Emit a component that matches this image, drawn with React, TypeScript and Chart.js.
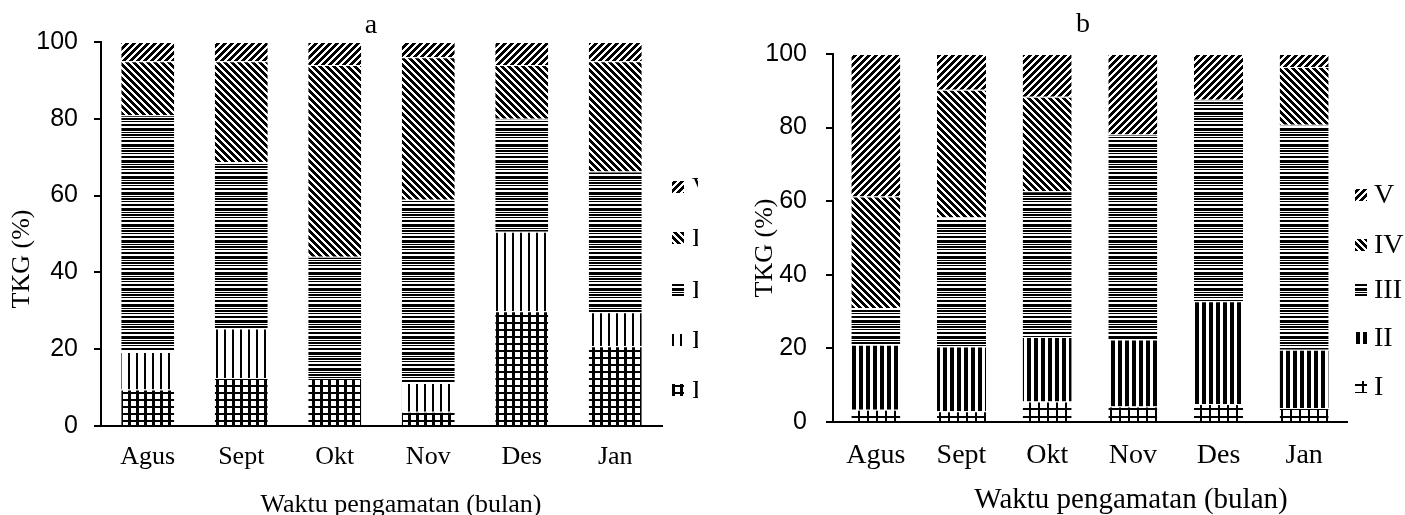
import React, { useEffect, useRef } from 'react';
import { Chart, registerables } from 'chart.js';

Chart.register(...registerables);

// ---------- DATA ----------
const categories = ['Agus', 'Sept', 'Okt', 'Nov', 'Des', 'Jan'];
const seriesNames = ['I', 'II', 'III', 'IV', 'V'];
const yTicks = [0, 20, 40, 60, 80, 100];

// chart a
const aI = [9.5, 12.5, 12.5, 3.7, 29.9, 20.8];
const aII = [9.8, 12.9, 0, 7.5, 20.7, 8.8];
const aIII = [61.6, 43.3, 31.6, 47.7, 29.4, 36.7];
const aIV = [14.1, 26.3, 49.9, 37.1, 14.0, 28.7];
const aV = [5, 5, 6, 4, 6, 5];

// chart b
const bI = [3.3, 2.9, 5.6, 4.2, 4.9, 3.8];
const bII = [17.7, 17.6, 17.5, 18.2, 27.9, 15.8];
const bIII = [10.0, 35.1, 39.6, 55.7, 54.8, 61.2];
const bIV = [30.3, 34.7, 25.7, 0, 0, 15.7];
const bV = [38.7, 9.7, 11.6, 21.9, 12.4, 3.5];

const titleA = 'a';
const titleB = 'b';
const yTitle = 'TKG (%)';
const xTitle = 'Waktu pengamatan (bulan)';

const SERIF = '"Liberation Serif", "Times New Roman", serif';
const SANS = '"Liberation Sans", Arial, sans-serif';

// ---------- PATTERNS ----------
function makeTile(w: number, h: number, on: (x: number, y: number) => boolean): HTMLCanvasElement {
  const c = document.createElement('canvas');
  c.width = w;
  c.height = h;
  const g = c.getContext('2d')!;
  const img = g.createImageData(w, h);
  for (let y = 0; y < h; y++) {
    for (let x = 0; x < w; x++) {
      const i = (y * w + x) * 4;
      const v = on(x, y) ? 0 : 255;
      img.data[i] = v;
      img.data[i + 1] = v;
      img.data[i + 2] = v;
      img.data[i + 3] = 255;
    }
  }
  g.putImageData(img, 0, 0);
  return c;
}

const hRows = new Set([0, 1, 2, 4, 6, 7, 9, 12, 13]);

function patternsA(ctx: CanvasRenderingContext2D) {
  return [
    ctx.createPattern(makeTile(8, 7, (x, y) => x < 3 || y < 2), 'repeat')!,
    ctx.createPattern(makeTile(8, 4, (x) => x < 2), 'repeat')!,
    ctx.createPattern(makeTile(4, 16, (_x, y) => hRows.has(y)), 'repeat')!,
    ctx.createPattern(makeTile(7, 7, (x, y) => (((x - y) % 7) + 7) % 7 < 4), 'repeat')!,
    ctx.createPattern(makeTile(7, 7, (x, y) => (x + y) % 7 < 4), 'repeat')!,
  ];
}

function patternsB(ctx: CanvasRenderingContext2D) {
  return [
    ctx.createPattern(makeTile(9, 8, (x, y) => x < 2 || y < 2), 'repeat')!,
    ctx.createPattern(makeTile(7, 4, (x) => x < 4), 'repeat')!,
    ctx.createPattern(makeTile(4, 16, (_x, y) => hRows.has(y)), 'repeat')!,
    ctx.createPattern(makeTile(7, 7, (x, y) => (((x - y) % 7) + 7) % 7 < 4), 'repeat')!,
    ctx.createPattern(makeTile(7, 7, (x, y) => (x + y) % 7 < 4), 'repeat')!,
  ];
}

interface Deco {
  letter: string;
  letterSize: number;
  letterDx: number;
  letterDy: number;
  xTitleSize: number;
  xTitleDx: number;
  xTitleDy: number;
  yTitleSize: number;
  yTitleDx: number;
  yTitleDy: number;
  legSize: number;
  legIconDx: number;
  legLabelDx: number;
  legDy: number[]; // for V, IV, III, II, I (top to bottom)
}

function decoPlugin(d: Deco, pats: CanvasPattern[]) {
  return {
    id: 'deco',
    afterDraw(chart: any) {
      const ctx: CanvasRenderingContext2D = chart.ctx;
      const a = chart.chartArea;
      ctx.save();
      ctx.fillStyle = '#000';
      // letter title
      ctx.font = `${d.letterSize}px ${SERIF}`;
      ctx.textAlign = 'center';
      ctx.textBaseline = 'alphabetic';
      ctx.fillText(d.letter, a.left + d.letterDx, a.top + d.letterDy);
      // x title
      ctx.font = `${d.xTitleSize}px ${SERIF}`;
      ctx.fillText(xTitle, a.left + d.xTitleDx, a.bottom + d.xTitleDy);
      // y title
      ctx.save();
      ctx.translate(a.left + d.yTitleDx, a.top + d.yTitleDy);
      ctx.rotate(-Math.PI / 2);
      ctx.font = `${d.yTitleSize}px ${SERIF}`;
      ctx.textBaseline = 'middle';
      ctx.fillText(yTitle, 0, 0);
      ctx.restore();
      // legend
      ctx.font = `${d.legSize}px ${SERIF}`;
      ctx.textAlign = 'left';
      ctx.textBaseline = 'middle';
      for (let k = 0; k < 5; k++) {
        const si = 4 - k;
        const cy = a.top + d.legDy[k];
        const ix = a.right + d.legIconDx;
        ctx.fillStyle = '#fff';
        ctx.fillRect(ix, cy - 6, 12, 12);
        ctx.fillStyle = pats[si];
        ctx.fillRect(ix, cy - 6, 12, 12);
        ctx.fillStyle = '#000';
        ctx.fillText(seriesNames[si], a.right + d.legLabelDx, cy + 1);
      }
      ctx.restore();
    },
  };
}

function buildConfig(
  series: number[][],
  pats: CanvasPattern[],
  o: {
    padRight: number;
    padTop: number;
    yWidth: number;
    xHeight: number;
    barPct: number;
    xTickSize: number;
    xTickPad: number;
    yTickPad: number;
  },
  deco: Deco
): any {
  return {
    type: 'bar',
    data: {
      labels: categories,
      datasets: series.map((vals, i) => ({
        label: seriesNames[i],
        data: vals,
        backgroundColor: pats[i],
        borderColor: '#fff',
        borderWidth: { top: 1, left: 0, right: 0, bottom: 0 },
        borderSkipped: false,
        barPercentage: o.barPct,
        categoryPercentage: 1,
      })),
    },
    options: {
      animation: false,
      responsive: false,
      events: [],
      layout: { padding: { left: 0, right: o.padRight, top: o.padTop, bottom: 0 } },
      plugins: {
        legend: { display: false },
        tooltip: { enabled: false },
        title: { display: false },
      },
      scales: {
        x: {
          stacked: true,
          grid: { display: false, drawTicks: false },
          border: { display: true, color: '#000', width: 2 },
          ticks: {
            color: '#000',
            font: { family: SERIF, size: o.xTickSize },
            padding: o.xTickPad,
            maxRotation: 0,
            autoSkip: false,
          },
          afterFit: (s: any) => {
            s.height = o.xHeight;
          },
        },
        y: {
          stacked: true,
          min: 0,
          max: 100,
          afterBuildTicks: (s: any) => {
            s.ticks = yTicks.map((v) => ({ value: v }));
          },
          ticks: {
            color: '#000',
            font: { family: SANS, size: 25 },
            padding: o.yTickPad,
          },
          grid: {
            drawOnChartArea: false,
            drawTicks: true,
            tickLength: 7,
            color: '#000',
            lineWidth: 2,
          },
          border: { display: true, color: '#000', width: 2 },
          afterFit: (s: any) => {
            s.width = o.yWidth;
          },
        },
      },
    },
    plugins: [decoPlugin(deco, pats)],
  };
}

export default function App() {
  const refA = useRef<HTMLCanvasElement>(null);
  const refB = useRef<HTMLCanvasElement>(null);

  useEffect(() => {
    const ctxA = refA.current!.getContext('2d')!;
    const ctxB = refB.current!.getContext('2d')!;
    const pa = patternsA(ctxA);
    const pb = patternsB(ctxB);

    const chartA = new Chart(
      ctxA,
      buildConfig(
        [aI, aII, aIII, aIV, aV],
        pa,
        { padRight: 36, padTop: 42, yWidth: 101, xHeight: 89, barPct: 0.567, xTickSize: 26, xTickPad: 16, yTickPad: 16 },
        {
          letter: titleA,
          letterSize: 28,
          letterDx: 270,
          letterDy: -9,
          xTitleSize: 26,
          xTitleDx: 300,
          xTitleDy: 86,
          yTitleSize: 26,
          yTitleDx: -78.5,
          yTitleDy: 217,
          legSize: 26,
          legIconDx: 10,
          legLabelDx: 30,
          legDy: [145, 196, 248, 298, 348],
        }
      )
    );

    const chartB = new Chart(
      ctxB,
      buildConfig(
        [bI, bII, bIII, bIV, bV],
        pb,
        { padRight: 58, padTop: 54, yWidth: 128, xHeight: 93, barPct: 0.572, xTickSize: 28, xTickPad: 17, yTickPad: 19 },
        {
          letter: titleB,
          letterSize: 28,
          letterDx: 250,
          letterDy: -22,
          xTitleSize: 29,
          xTitleDx: 298,
          xTitleDy: 86,
          yTitleSize: 26,
          yTitleDx: -68,
          yTitleDy: 194,
          legSize: 28,
          legIconDx: 8,
          legLabelDx: 27,
          legDy: [141, 191, 236, 284, 333],
        }
      )
    );

    return () => {
      chartA.destroy();
      chartB.destroy();
    };
  }, []);

  return (
    <div style={{ position: 'absolute', left: 0, top: 0, width: 1405, height: 515, background: '#fff', overflow: 'hidden' }}>
      <canvas ref={refA} width={698} height={515} style={{ position: 'absolute', left: 0, top: 0, width: 698, height: 515 }} />
      <canvas ref={refB} width={700} height={515} style={{ position: 'absolute', left: 705, top: 0, width: 700, height: 515 }} />
    </div>
  );
}
